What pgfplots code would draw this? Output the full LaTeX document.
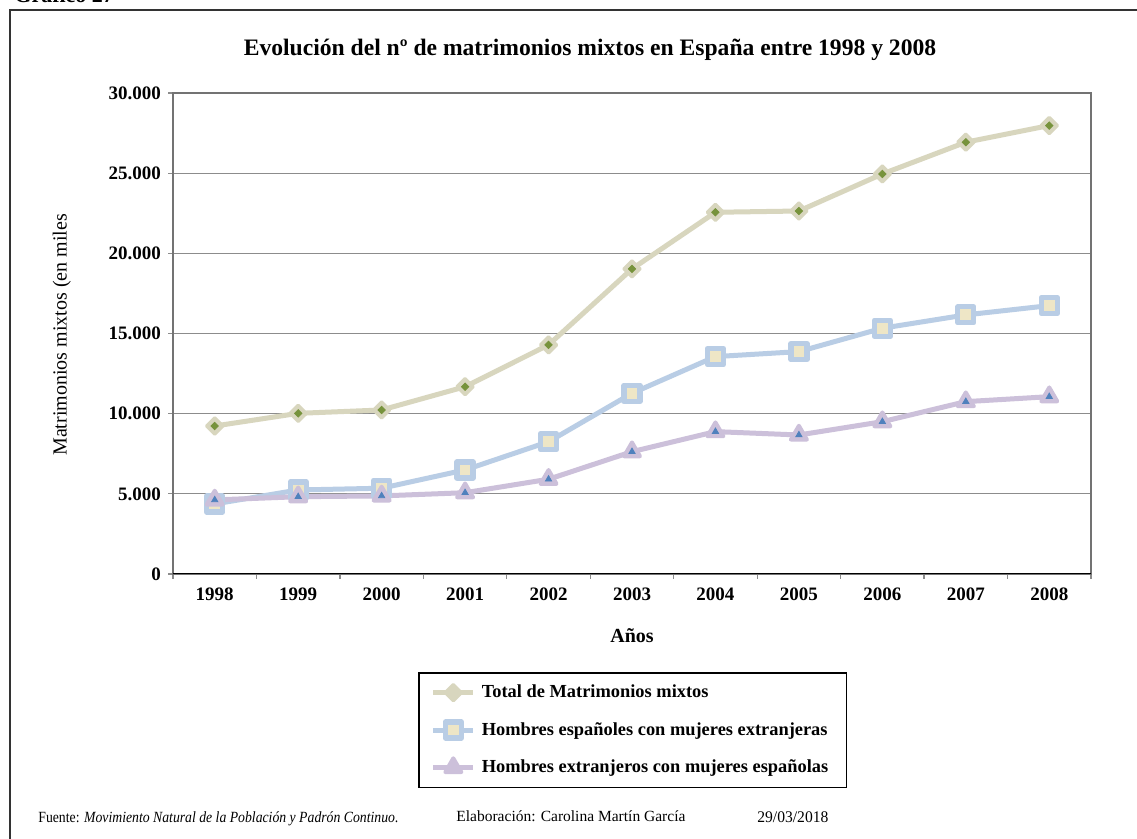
\documentclass[border=0pt]{standalone}
\usepackage{pgfplots}
\pgfplotsset{compat=1.18}
\usepackage{fontspec}
\setmainfont{Liberation Serif}
\definecolor{totl}{RGB}{216,214,190}
\definecolor{totg}{RGB}{119,147,60}
\definecolor{bl}{RGB}{185,205,229}
\definecolor{blin}{RGB}{238,230,198}
\definecolor{pu}{RGB}{204,192,218}
\definecolor{puin}{RGB}{79,129,189}
\definecolor{gridc}{RGB}{140,140,140}
\begin{document}
\begin{tikzpicture}[x=0.5pt,y=-0.5pt]
\useasboundingbox (0,0) rectangle (1137,839);
\fill[white] (0,0) rectangle (1137,839);
\draw[line width=0.8pt, black!80] (10,860) -- (10,10) -- (1160,10);
\node[anchor=base west, font=\bfseries\fontsize{11}{12}\selectfont, inner sep=0pt] at (14,3) {Gráfico 27};
\node[font=\bfseries\fontsize{11.8}{13}\selectfont] at (590,50) {Evolución del nº de matrimonios mixtos en España entre 1998 y 2008};
\coordinate (A) at (173,574);
\begin{axis}[
  at={(A)}, anchor=south west, scale only axis,
  width=459pt, height=240.5pt,
  xmin=-0.5, xmax=10.5, ymin=0, ymax=30000,
  xtick={0,...,10}, xticklabels={1998,1999,2000,2001,2002,2003,2004,2005,2006,2007,2008},
  major x tick style={draw=none},
  minor xtick={-0.5,0.5,...,10.5},
  ytick={0,5000,...,30000},
  xtick pos=bottom, ytick pos=left,
  tick align=outside, major tick length=2.5pt, minor tick length=2.5pt,
  tick style={gridc, line width=0.6pt},
  ymajorgrids, grid style={gridc, line width=0.6pt},
  axis line style={black!55, line width=0.6pt},
  scaled y ticks=false,
  yticklabel style={/pgf/number format/.cd, fixed, 1000 sep={.}, assume math mode=true},
  ticklabel style={font=\bfseries\fontsize{9.5}{10}\selectfont},
  xticklabel style={yshift=-1pt},
  xlabel={Años}, xlabel style={font=\bfseries\fontsize{10}{12}\selectfont, at={(axis description cs:0.5,-0.129)}, anchor=center},
  ylabel={Matrimonios mixtos (en miles}, ylabel style={font=\fontsize{10}{12}\selectfont, at={(axis description cs:-0.121,0.497)}, anchor=center},
  legend style={at={(axis description cs:0.267,-0.204)}, anchor=north west, draw=black, line width=0.7pt,
    font=\bfseries\fontsize{9.2}{10}\selectfont, row sep=6.8pt, inner xsep=6pt, inner ysep=4pt,
    nodes={inner xsep=3pt}},
  legend cell align=left,
  legend image code/.code={\draw[mark repeat=2,mark phase=2] plot coordinates {(0pt,0pt) (10pt,0pt) (20pt,0pt)};},
]
\addplot[totl, line width=2.5pt, mark=square*, mark size=2.9pt, mark options={rotate=45, fill=totl, draw=totl, line width=1.5pt, line join=round}]
 coordinates {(0,9230)(1,10020)(2,10230)(3,11680)(4,14290)(5,19030)(6,22560)(7,22640)(8,24950)(9,26930)(10,27970)};
\addlegendentry{Total de Matrimonios mixtos}
\addplot[forget plot, totg, only marks, mark=square*, mark size=1.3pt, mark options={rotate=45, fill=totg, draw=none}]
 coordinates {(0,9230)(1,10020)(2,10230)(3,11680)(4,14290)(5,19030)(6,22560)(7,22640)(8,24950)(9,26930)(10,27970)};
\addplot[bl, line width=2.5pt, mark=square*, mark size=4pt, mark options={fill=blin, draw=bl, line width=2.6pt, line join=round}]
 coordinates {(0,4370)(1,5240)(2,5350)(3,6490)(4,8250)(5,11270)(6,13560)(7,13870)(8,15330)(9,16160)(10,16740)};
\addlegendentry{Hombres españoles con mujeres extranjeras}
\addplot[pu, line width=2.5pt, mark=triangle*, mark size=4.6pt, mark options={fill=pu, draw=pu, line width=2pt, line join=round}]
 coordinates {(0,4620)(1,4820)(2,4870)(3,5070)(4,5910)(5,7630)(6,8880)(7,8670)(8,9500)(9,10750)(10,11060)};
\addlegendentry{Hombres extranjeros con mujeres españolas}
\addplot[forget plot, puin, only marks, mark=triangle*, mark size=1.8pt, mark options={fill=puin, draw=none}]
 coordinates {(0,4620)(1,4820)(2,4870)(3,5070)(4,5910)(5,7630)(6,8880)(7,8670)(8,9500)(9,10750)(10,11060)};
\draw[black, line width=0.7pt] (rel axis cs:0,0) -- (rel axis cs:1,0);
\end{axis}
\node[anchor=base west, inner sep=0pt] at (38,822) {\resizebox{180pt}{5.4pt}{Fuente: \textit{Movimiento Natural de la Población y Padrón Continuo}.}};
\node[anchor=base west, inner sep=0pt] at (456,822) {\resizebox{114.5pt}{5.4pt}{Elaboración: Carolina Martín García}};
\node[anchor=base west, inner sep=0pt] at (757,822) {\resizebox{35.5pt}{5.4pt}{29/03/2018}};
\end{tikzpicture}
\end{document}
